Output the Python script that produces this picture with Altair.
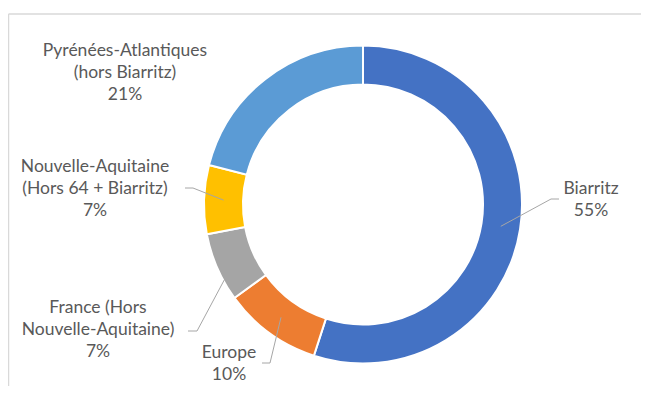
import altair as alt
import pandas as pd
import numpy as np

# ---- data ----
categories = ["Biarritz", "Europe", "France (Hors Nouvelle-Aquitaine)",
              "Nouvelle-Aquitaine (Hors 64 + Biarritz)", "Pyrénées-Atlantiques (hors Biarritz)"]
values = [55, 10, 7, 7, 21]
label_texts = ["Biarritz\n55%", "Europe\n10%", "France (Hors\nNouvelle-Aquitaine)\n7%",
               "Nouvelle-Aquitaine\n(Hors 64 + Biarritz)\n7%", "Pyrénées-Atlantiques\n(hors Biarritz)\n21%"]
colors = ["#4472C4", "#ED7D31", "#A5A5A5", "#FFC000", "#5B9BD5"]

# ---- layout (pixels in chart coordinates) ----
W, H = 633, 378
CX, CY = 355, 196.5
R_OUT, R_IN = 159, 120
label_x = [583, 221, 90, 87, 117]
label_y = [181, 345, 300, 159, 43]
elbow_x = [543, 262, 189, 185, None]
elbow_y = [191, 355, 323, 180, None]
end_x = [551, 254, 180, 177, None]
end_y = [191, 355, 323, 180, None]

df = pd.DataFrame({"cat": categories, "value": values, "idx": range(len(values)),
                   "label": label_texts, "lx": label_x, "ly": label_y})

# leader line start: middle of slice at mid-ring radius
total = sum(values)
cum = np.cumsum([0] + values)
mid = [(cum[i] + values[i] / 2) / total * 2 * np.pi for i in range(len(values))]
r_mid = (R_OUT + R_IN) / 2
lead = pd.DataFrame({
    "sx": [CX + r_mid * np.sin(a) for a in mid],
    "sy": [CY - r_mid * np.cos(a) for a in mid],
    "ex": elbow_x, "ey": elbow_y, "fx": end_x, "fy": end_y,
}).dropna()

arc = alt.Chart(df).mark_arc(innerRadius=R_IN, outerRadius=R_OUT, stroke="white", strokeWidth=2).encode(
    theta=alt.Theta("value:Q", stack=True),
    color=alt.Color("cat:N", scale=alt.Scale(domain=categories, range=colors), legend=None),
    order=alt.Order("idx:Q"),
    x=alt.value(CX), y=alt.value(CY),
)

seg1 = alt.Chart(lead).mark_rule(color="#A6A6A6", strokeWidth=1).encode(
    x=alt.X("sx:Q", scale=None, axis=None), y=alt.Y("sy:Q", scale=None, axis=None),
    x2="ex:Q", y2="ey:Q")
seg2 = alt.Chart(lead).mark_rule(color="#A6A6A6", strokeWidth=1).encode(
    x=alt.X("ex:Q", scale=None, axis=None), y=alt.Y("ey:Q", scale=None, axis=None),
    x2="fx:Q", y2="fy:Q")

labels = alt.Chart(df).mark_text(align="center", baseline="middle", lineBreak="\n", lineHeight=22,
                                 fontSize=17.5, font="Lato", color="#595959").encode(
    x=alt.X("lx:Q", scale=None, axis=None), y=alt.Y("ly:Q", scale=None, axis=None),
    text="label:N")

frame_df = pd.DataFrame({"a": [0]})
frame_top = alt.Chart(frame_df).mark_rule(color="#D9D9D9", strokeWidth=1.5).encode(
    x=alt.value(0.5), x2=alt.value(W), y=alt.value(6))
frame_left = alt.Chart(frame_df).mark_rule(color="#D9D9D9", strokeWidth=1.5).encode(
    x=alt.value(0.5), y=alt.value(6), y2=alt.value(H))

chart = alt.layer(frame_top, frame_left, arc, seg1, seg2, labels).properties(
    width=W, height=H, padding=0, autosize=alt.AutoSizeParams(type="none"),
    background="white",
).configure_view(stroke=None)

chart.save("out.html", embed_options={"renderer": "svg", "actions": False})
